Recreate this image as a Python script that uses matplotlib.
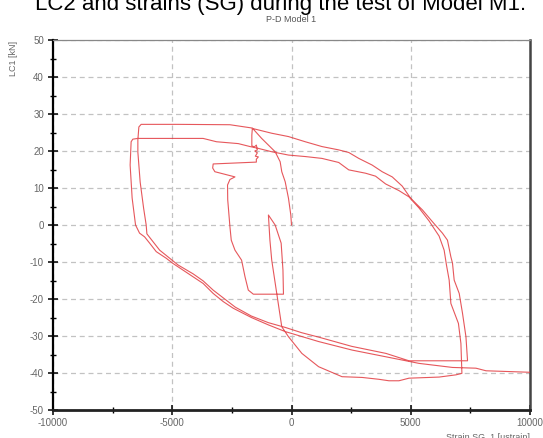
import matplotlib
matplotlib.use("Agg")
import matplotlib.pyplot as plt
import numpy as np
from matplotlib.ticker import MultipleLocator

plt.rcParams['font.family'] = ['Liberation Sans', 'DejaVu Sans']
plt.rcParams['axes.unicode_minus'] = False

# ---- data: strain SG_1 [ustrain] vs LC1 [kN] ----
initial_strain = [0, -29, -126, -265, -408, -476, -686, -1251, -1642]
initial_load = [0, 2.7, 7.2, 11.7, 14.4, 17.1, 19.8, 23.4, 26.2]

loop1_strain = [-2581, -4758, -6303, -6400, -6442, -6442, -6345, -6202, -6093, -6063,
                -5810, -5528, -5179, -4758, -4126, -3705, -3284, -2863, -2358, -1684,
                -968, -253, 421, 1137, 2526, 3958, 4926, 7381, 7314, 7171,
                7032, 6821, 6750, 6682, 6539, 6328, 5907, 5486, 4998, 4644,
                4223, 3802, 3381, 2821, 2400, 1979, 1276, 577, -126, -829, -1642]
loop1_load = [27.1, 27.2, 27.2, 26.5, 23.0, 19.7, 11.6, 4.6, 0.0, -2.4,
              -4.5, -6.8, -8.6, -10.8, -13.2, -15.1, -17.6, -19.7, -22.2, -24.6,
              -26.4, -27.7, -29.1, -30.3, -32.8, -34.7, -36.7, -36.7, -30.2, -23.9,
              -18.5, -14.9, -10.3, -8.6, -4.1, -2.2, 0.9, 4.1, 7.2, 10.5,
              13.0, 14.4, 16.2, 18.0, 19.6, 20.3, 21.2, 22.5, 23.9, 24.8, 26.1]

slip_strain = [-1663, -1663, -1558, -1474, -1432, -1537, -1432, -1516, -1389, -1474, -1474]
slip_load = [24.3, 21.4, 21.1, 21.6, 20.3, 20.0, 19.5, 18.6, 18.4, 17.8, 17.0]

core_strain = [-3284, -3305, -3213, -2737, -2370, -2581, -2682, -2674, -2581, -2526,
               -2370, -2093, -1949, -1811, -1600, -337, -358, -434, -686, -968]
core_load = [16.5, 15.4, 14.4, 13.6, 13.0, 12.3, 10.8, 6.8, -0.5, -4.1,
             -6.8, -9.5, -14.0, -17.6, -18.7, -18.7, -12.2, -4.9, 0.0, 2.7]

loop2_strain = [-905, -829, -619, -408, -126, 434, 1137, 2118, 2960, 3663,
                4084, 4505, 4926, 6189, 6893, 7145, 7103, 6999, 6682, 6611,
                6497, 6400, 6189, 5768, 5347, 4926, 4505, 3945, 3524, 3103,
                2400, 1979, 1276, 577, -126, -829, -1389, -1739, -2232, -3145,
                -3705, -6442, -6653, -6724, -6766, -6682, -6539, -6371, -6160, -5949,
                -5671, -5250, -4968, -4547, -4126, -3705, -3284, -2863, -2442, -1684,
                -968, -265, 1137, 2539, 3945, 4787, 5347, 6750, 7735, 8156,
                9979, 11242]
loop2_load = [-4.1, -9.5, -18.5, -27.5, -30.2, -34.7, -38.3, -41.0, -41.2, -41.7,
              -42.1, -42.1, -41.4, -41.1, -40.5, -40.1, -32.0, -26.6, -21.2, -14.9,
              -10.8, -6.8, -3.0, 1.1, 4.6, 7.6, 9.3, 11.1, 13.2, 14.0,
              14.9, 16.9, 18.0, 18.5, 18.9, 19.8, 20.7, 21.2, 22.0, 22.5,
              23.4, 23.4, 23.2, 22.5, 16.2, 7.3, 0.0, -2.2, -3.2, -4.9,
              -7.2, -9.0, -10.4, -12.2, -14.0, -15.8, -18.5, -20.7, -22.5, -25.0,
              -27.0, -28.8, -31.5, -33.8, -35.6, -36.7, -37.4, -38.5, -38.7, -39.4,
              -39.8, -39.9]

x_ticks = [-10000, -5000, 0, 5000, 10000]
y_ticks = [-50, -40, -30, -20, -10, 0, 10, 20, 30, 40, 50]

strain = np.concatenate([initial_strain, loop1_strain, slip_strain, core_strain, loop2_strain])
load = np.concatenate([initial_load, loop1_load, slip_load, core_load, loop2_load])

fig = plt.figure(figsize=(5.43, 4.38), dpi=100)
ax = fig.add_axes([53/543, 1-410/438, (530-53)/543, (410-40)/438])

ax.plot(strain, load, color='#e23a3f', linewidth=0.8, alpha=0.85, zorder=3)

ax.set_xlim(-10000, 10000)
ax.set_ylim(-50, 50)
ax.set_xticks(x_ticks)
ax.set_yticks(y_ticks)
ax.xaxis.set_minor_locator(MultipleLocator(2500))
ax.yaxis.set_minor_locator(MultipleLocator(5))

ax.grid(True, which='major', linestyle=(0, (4, 3)), color='#c2c2c2', linewidth=0.9, zorder=0)

ax.tick_params(which='major', direction='inout', length=7, width=1.1, color='black',
               labelcolor='#666666', labelsize=7)
ax.tick_params(axis='x', which='major', pad=2)
ax.tick_params(axis='y', which='major', pad=3)
ax.tick_params(which='minor', direction='inout', length=5, width=1.0, color='black')

for side, lw, col in [('left', 1.6, 'black'), ('bottom', 2.0, '#222222'),
                      ('right', 1.8, '#444444'), ('top', 0.9, '#888888')]:
    ax.spines[side].set_linewidth(lw)
    ax.spines[side].set_color(col)

fig.text(0.5 * (53 + 530) / 543, 1 - 19 / 438, 'P-D Model 1', ha='center', va='center',
         fontsize=6.5, color='#555555')
fig.text(14 / 543, 1 - 58 / 438, 'LC1 [kN]', rotation=90, ha='center', va='center',
         fontsize=6.5, color='#666666')
fig.text(530 / 543, 1 - 433 / 438, 'Strain SG_1 [ustrain]', ha='right', va='top',
         fontsize=6.5, color='#666666')
fig.text(35 / 543, 1 - 10 / 438, 'LC2 and strains (SG) during the test of Model M1.',
         ha='left', va='baseline', fontsize=16, color='black')

fig.savefig('out.png', dpi=100)
